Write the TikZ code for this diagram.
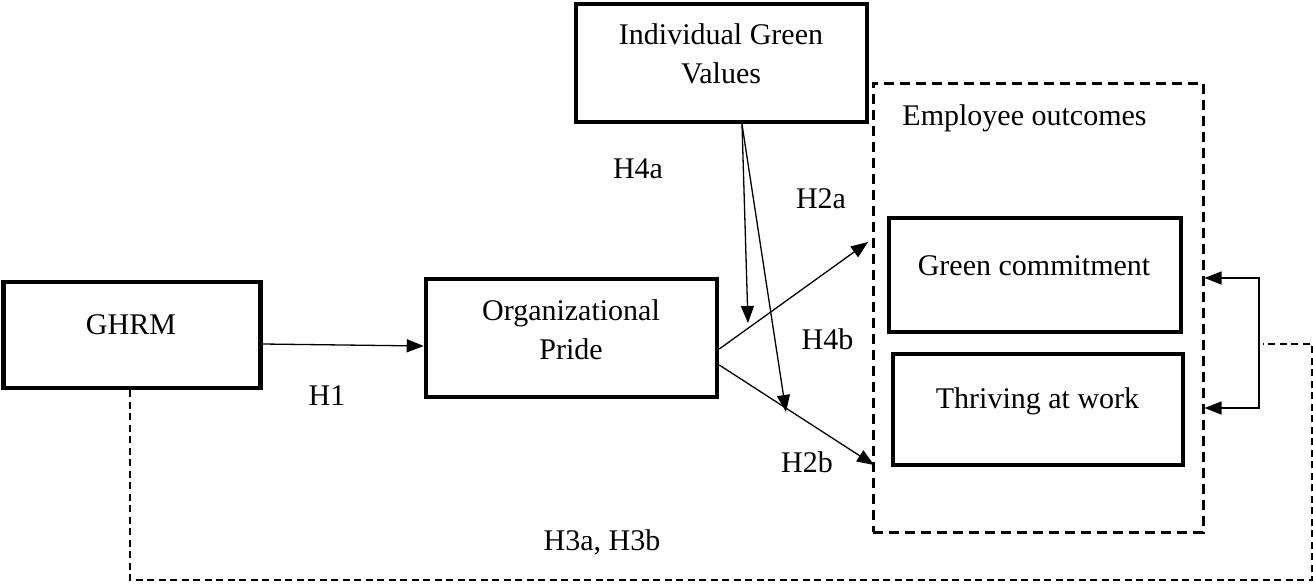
\documentclass[tikz,border=0pt]{standalone}
\usepackage{fontspec}
\setmainfont{Liberation Serif}
\usetikzlibrary{arrows.meta,calc}
\begin{document}
\begin{tikzpicture}[x=1pt,y=-1pt,
  box/.style={draw, line width=4.5pt, inner sep=0pt},
  txt/.style={font=\fontsize{30}{39}\selectfont, inner sep=0pt},
  tip/.tip={Triangle[length=17pt,width=13pt]},
  arr/.style={-tip, line width=1.3pt},
  biarr/.style={tip-tip, line width=1.3pt},
  dbox/.style={draw, line width=3pt, dash pattern=on 10pt off 6pt},
  dline/.style={line width=2.6pt, dash pattern=on 7pt off 4.5pt}]
\useasboundingbox (0,0) rectangle (1313,586);

% boxes
\node[box, minimum width=257pt, minimum height=106pt] (ghrm) at (132,335) {};
\node[box, minimum width=291pt, minimum height=118pt] (org) at (571.5,338) {};
\node[box, minimum width=291pt, minimum height=118pt] (igv) at (721.5,63) {};
\node[dbox, minimum width=330pt, minimum height=449pt, inner sep=0pt] (emp) at (1038,307.5) {};
\node[box, minimum width=292pt, minimum height=114pt] (gc) at (1035,275) {};
\node[box, minimum width=290pt, minimum height=111pt] (tw) at (1038,409.5) {};

% texts
\node[txt, anchor=base] (ghrmT) at (131,334) {GHRM};
\node[txt, align=center] (orgT) at (571,330) {Organizational\\Pride};
\node[txt, align=center] (igvT) at (721,54) {Individual Green\\Values};
\node[txt, anchor=base] (empT) at (1024.5,125) {Employee outcomes};
\node[txt, anchor=base] (gcT) at (1034,275) {Green commitment};
\node[txt, anchor=base] (twT) at (1037.5,408) {Thriving at work};

% hypothesis labels
\node[txt, anchor=base] (h1) at (327,405) {H1};
\node[txt, anchor=base] (h4a) at (638,178) {H4a};
\node[txt, anchor=base] (h2a) at (821,208) {H2a};
\node[txt, anchor=base] (h4b) at (827.5,349) {H4b};
\node[txt, anchor=base] (h2b) at (807,472) {H2b};
\node[txt, anchor=base] (h3) at (602,550) {H3a, H3b};

% coordinates
\coordinate (m1) at (748,323);
\coordinate (m2) at (786,412);
\coordinate (a2) at (868,242);
\coordinate (b2) at (874,465);
\coordinate (fb1) at (1259,278);
\coordinate (fb2) at (1259,408);
\coordinate (lp1) at (130,580);
\coordinate (lp2) at (1312,580);
\coordinate (lp3) at (1312,344);
\coordinate (lp4) at (1263,344);

% connectors
\draw[arr] ([yshift=-9pt]ghrm.east) -- ([yshift=-8pt]org.west);
\draw[arr] ([xshift=20.5pt]igv.south) -- (m1);
\draw[arr] ([xshift=20.5pt]igv.south) -- (m2);
\draw[arr] ([yshift=-11pt]org.east) -- (a2);
\draw[arr] ([yshift=-27pt]org.east) -- (b2);
\draw[biarr] (emp.east |- fb1) -- (fb1) -- (fb2) -- (emp.east |- fb2);
\draw[dline] ([xshift=-2pt]ghrm.south) -- (lp1) -- (lp2) -- (lp3) -- (lp4);
\end{tikzpicture}
\end{document}
